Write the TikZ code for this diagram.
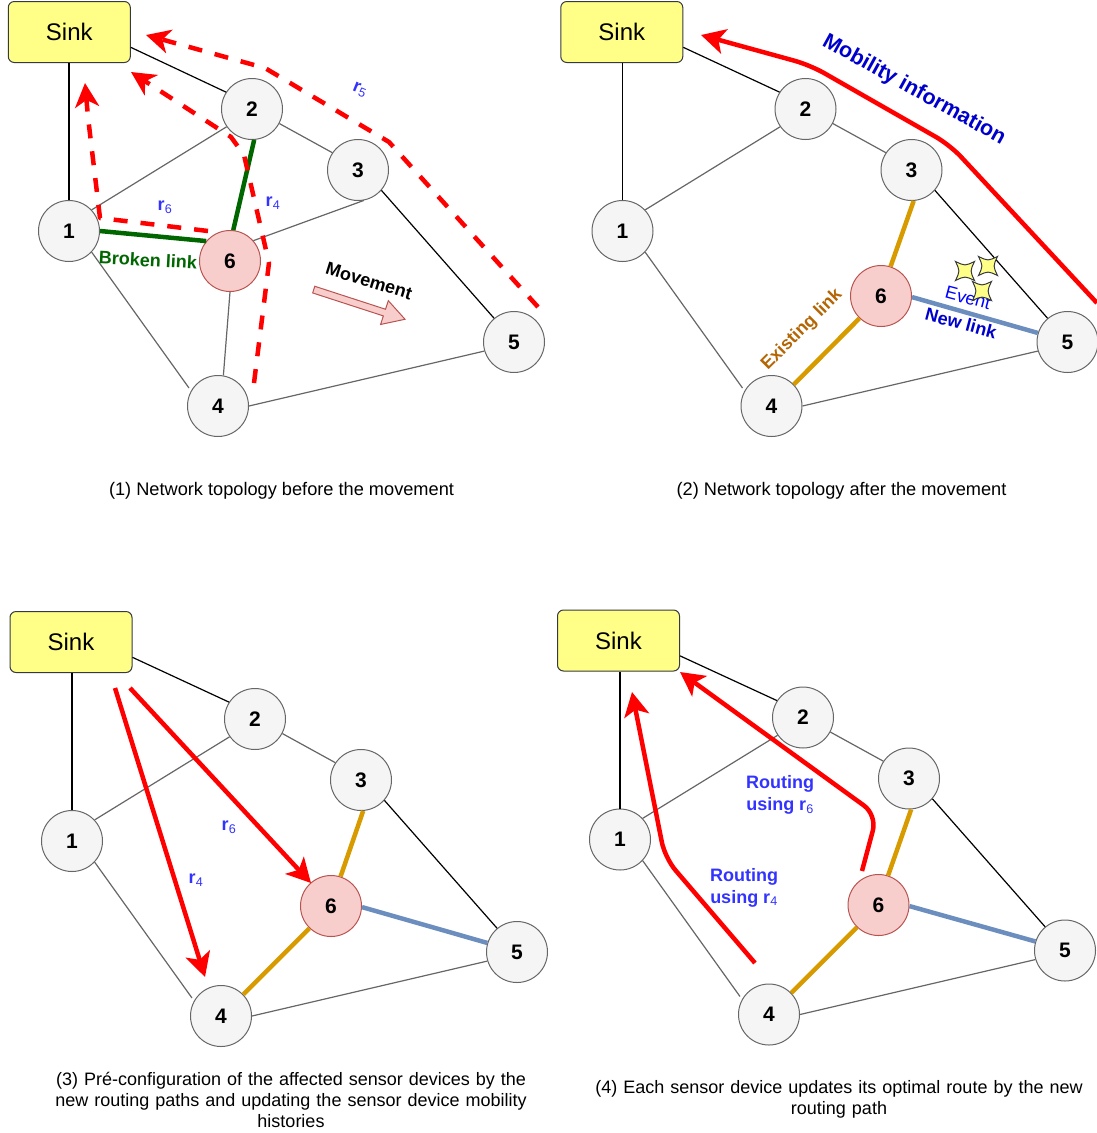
\documentclass[tikz,border=0pt]{standalone}
\usepackage{fontspec}
\setmainfont{Liberation Sans}
\usetikzlibrary{arrows.meta,shapes.arrows}
\definecolor{nodefill}{HTML}{F5F5F5}
\definecolor{nodeline}{HTML}{666666}
\definecolor{sinkfill}{HTML}{FFFF88}
\definecolor{sinkline}{HTML}{36393D}
\definecolor{redfill}{HTML}{F8CECC}
\definecolor{redline}{HTML}{B85450}
\definecolor{lgreen}{HTML}{006600}
\definecolor{lorange}{HTML}{D79B00}
\definecolor{lblue}{HTML}{6C8EBF}
\definecolor{tblue}{HTML}{3333FF}
\definecolor{tdark}{HTML}{0000CC}
\definecolor{tbrown}{HTML}{B46504}
\newcommand{\fs}[1]{\fontsize{#1}{#1}\selectfont}
\tikzset{
  netnode/.style={circle,minimum size=61pt,inner sep=0pt,fill=nodefill,draw=nodeline,line width=1pt,font=\fs{21}\bfseries},
  movenode/.style={netnode,fill=redfill,draw=redline},
  sinkbox/.style={rectangle,rounded corners=6pt,minimum width=122pt,minimum height=61pt,inner sep=0pt,fill=sinkfill,draw=sinkline,line width=1pt,font=\fs{24}},
  greylink/.style={draw=nodeline,line width=1.2pt},
  blacklink/.style={draw=black,line width=1.2pt},
  greenlink/.style={draw=lgreen,line width=4.5pt},
  orangelink/.style={draw=lorange,line width=4.5pt},
  bluelink/.style={draw=lblue,line width=4.5pt},
  route/.style={draw=red,line width=4.5pt,line join=round,-{Stealth[length=24pt,width=24pt,inset=7pt]}},
  dashroute/.style={route,dash pattern=on 14pt off 13pt},
  solidroute/.style={route,rounded corners=16pt,-{Stealth[length=24pt,width=25pt,inset=6pt]}},
  caption/.style={font=\fs{18.2},align=center,inner sep=0pt},
  longcaption/.style={font=\fs{18},align=center,inner sep=0pt},
  bluebold/.style={text=tblue,font=\fs{18}\bfseries,inner sep=0pt,align=center},
  rlabel/.style={text=tblue,font=\fs{18}\bfseries,inner sep=0pt},
  sparkle/.style={fill=sinkfill,draw=sinkline,line width=1pt},
}
\newcommand{\netbase}[6]{%
  \begin{scope}[shift={(#2,#3)}]
    \node[sinkbox] (#1s) at (#6,32) {Sink};
    \node[netnode] (#1n1) at (69,231) {1};
    \node[netnode] (#1n2) at (252,109) {2};
    \node[netnode] (#1n3) at (358,170) {3};
    \node[netnode] (#1n4) at (218,406) {4};
    \node[netnode] (#1n5) at (514,342) {5};
    \node[movenode] (#1n6) at (#4,#5) {6};
    \coordinate (#1gap) at (189,388);
    \path[blacklink] (#1s.south -| #1n1) -- (#1n1.north);
    \path[blacklink] (#1s.-14) -- (#1n2.147);
    \path[greylink] (#1n1.43) -- (#1n2.215);
    \path[greylink] (#1n2.-28) -- (#1n3.146);
    \path[blacklink] (#1n3.-41) -- (#1n5.130);
    \path[greylink] (#1n1.-43) -- (#1gap);
    \path[greylink] (#1n4.0) -- (#1n5.197);
  \end{scope}}
\newcommand{\starshape}[2]{%
  \path[sparkle] (#1-9.5,#2-9.5) .. controls (#1,#2-5) .. (#1+9.5,#2-9.5)
    .. controls (#1+5,#2) .. (#1+9.5,#2+9.5)
    .. controls (#1,#2+5) .. (#1-9.5,#2+9.5)
    .. controls (#1-5,#2) .. (#1-9.5,#2-9.5) -- cycle;}
\begin{document}
\begin{tikzpicture}[x=1pt,y=-1pt]
\useasboundingbox (0,0) rectangle (1097,1133);
% panel 1
\netbase{a}{0}{0}{230}{261}{69.3}
\path[greylink] (an3.-79) -- (an6.41);
\path[greylink] (an6.-90) -- (an4.80);
\path[greenlink] (an1.east) -- (an6.140);
\path[greenlink] (an2.-86) -- (an6.84);
\coordinate (p1a) at (538,307); \coordinate (p1b) at (389,142); \coordinate (p1c) at (265,68); \coordinate (p1d) at (146,35);
\coordinate (p2a) at (254,383); \coordinate (p2b) at (269,263); \coordinate (p2c) at (244,155); \coordinate (p2d) at (231,137); \coordinate (p2e) at (131,72);
\coordinate (p3a) at (208,231); \coordinate (p3b) at (100,218); \coordinate (p3c) at (88,117); \coordinate (p3d) at (85,83);
\path[dashroute] (p1a) -- (p1b) -- (p1c) -- (p1d);
\path[dashroute] (p2a) -- (p2b) -- (p2c) -- (p2d) -- (p2e);
\path[dashroute] (p3a) -- (p3b) -- (p3c) -- (p3d);
\node[rlabel,rotate=-22] (r5a) at (360,90) {r\textsubscript{\mdseries 5}};
\node[rlabel] (r6a) at (165,207) {r\textsubscript{\mdseries 6}};
\node[rlabel] (r4a) at (273,203) {r\textsubscript{\mdseries 4}};
\node[text=lgreen,font=\fs{18}\bfseries,rotate=-3,inner sep=0pt] (broken) at (148,260) {Broken link};
\node[font=\fs{18}\bfseries,rotate=-17,inner sep=0pt] (move) at (369,281) {Movement};
\node[single arrow,single arrow head extend=9pt,single arrow tip angle=60,single arrow head indent=0pt,minimum height=96pt,minimum width=24pt,inner sep=3pt,fill=redfill,draw=redline,line width=1pt,rotate=-18] (movearrow) at (356.5,303.5) {};
\node[caption] (c1) at (281.5,491) {(1) Network topology before the movement};
% panel 2
\netbase{b}{553.5}{0}{327.5}{296}{68.3}
\path[orangelink] (bn3.-86) -- (bn6.72);
\path[orangelink] (bn6.-134) -- (bn4.44);
\path[bluelink] (bn6.-2) -- (bn5.163);
\coordinate (q1a) at (1097,303); \coordinate (q1b) at (950,145); \coordinate (q1c) at (810,65); \coordinate (q1d) at (701,35);
\path[solidroute] (q1a) -- (q1b) -- (q1c) -- (q1d);
\node[text=tdark,font=\fs{21.5}\bfseries,rotate=-29,inner sep=0pt] (mobinfo) at (914,90) {Mobility information};
\node[text=tbrown,font=\fs{18}\bfseries,rotate=45,inner sep=0pt] (exist) at (802,330) {Existing link};
\node[text=tdark,font=\fs{18}\bfseries,rotate=-15,inner sep=0pt] (newlink) at (961,323) {New link};
\node[text=blue,font=\fs{18},rotate=-15,inner sep=0pt] (event) at (968,298) {Event};
\starshape{965}{271}
\starshape{988}{266}
\starshape{982}{291}
\node[caption] (c2) at (841.5,491) {(2) Network topology after the movement};
% panel 3
\netbase{c}{3}{610}{328}{296}{68}
\path[orangelink] (cn3.-86) -- (cn6.72);
\path[orangelink] (cn6.-134) -- (cn4.44);
\path[bluelink] (cn6.-2) -- (cn5.163);
\coordinate (u1) at (115,688); \coordinate (u2) at (130,688);
\path[solidroute] (u1) -- (205,977);
\path[solidroute] (u2) -- (311,883);
\node[rlabel] (r6c) at (229,827) {r\textsubscript{\mdseries 6}};
\node[rlabel] (r4c) at (196,880) {r\textsubscript{\mdseries 4}};
\node[longcaption,text width=490pt] (c3) at (291,1100) {\baselineskip=21pt (3) Pré-configuration of the affected sensor devices by the\\ new routing paths and updating the sensor device mobility\\ histories\par};
% panel 4
\netbase{d}{551}{608.5}{327.5}{296.5}{67.5}
\path[orangelink] (dn3.-86) -- (dn6.72);
\path[orangelink] (dn6.-134) -- (dn4.44);
\path[bluelink] (dn6.-2) -- (dn5.163);
\coordinate (v1) at (755,963); \coordinate (v2) at (862,871);
\path[solidroute] (v1) -- (665,858) -- (632,692);
\path[solidroute] (v2) -- (877,815) -- (680,672);
\node[bluebold] (rt6) at (780,795) {Routing\\[4pt] using r\textsubscript{\mdseries 6}};
\node[bluebold] (rt4) at (744,887.5) {Routing\\[4pt] using r\textsubscript{\mdseries 4}};
\node[longcaption,text width=500pt] (c4) at (839,1099.5) {\baselineskip=21pt (4) Each sensor device updates its optimal route by the new\\ routing path\par};
\end{tikzpicture}
\end{document}
